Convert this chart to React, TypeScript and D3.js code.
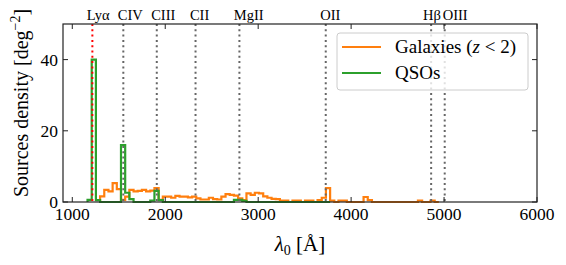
import React, { useRef, useEffect } from 'react';
import * as d3 from 'd3';

// emission lines (rest-frame wavelength, Å)
const lineNames = ['Lyα', 'CIV', 'CIII', 'CII', 'MgII', 'OII', 'Hβ', 'OIII'];
const lineWaves = [1216, 1549, 1909, 2326, 2798, 3727, 4861, 5007];
const lineColors = ['red', '#666', '#666', '#666', '#666', '#666', '#666', '#666'];
const labelShift = [-60, -60, -60, -60, -60, -60, -88, -22];

// histograms: 45 Å bins
const binWidth = 45;
const galaxyStart = 1299;
const galaxyDensity = [
  1.6, 3.4, 3.0, 5.3, 3.6, 0.6, 1.5, 3.4, 3.0, 3.1,
  3.4, 3.0, 3.2, 3.9, 0.6, 1.5, 1.5, 1.2, 1.7, 1.5,
  1.5, 1.3, 1.5, 1.0, 0.7, 0.7, 1.2, 0.8, 0.7, 1.5,
  2.2, 2.0, 1.8, 1.0, 0.5, 2.4, 2.0, 2.6, 2.4, 1.6,
  1.2, 0.9, 0.8, 0.4, 0.4, 0, 0.4, 0.4, 0, 0.4,
  0.4, 0, 0.5, 1.2, 3.9, 0.4, 0, 0.4, 0.4, 0,
  0, 0, 0, 1.4, 0.5, 0, 0, 0, 0, 0,
  0, 0, 0, 0, 0, 0, 0.4, 0, 0, 0.4, 0,
];
const qsoStart = 1164;
const qsoDensity = [
  0.6, 40, 0.5, 0, 0, 0, 0, 0, 16, 2.6,
  0.8, 0, 0, 0, 0, 0.4, 3.1, 0.5, 0, 0,
  0, 0, 0, 0, 0, 0, 0, 0, 0, 0,
  0, 0, 0, 0, 0, 0.6, 0.6, 0.3, 0, 0,
  0, 0, 0, 0, 0, 0, 0, 0, 0, 0,
  0, 0, 0, 0, 0, 0, 0, 0,
];

const xTicks = [1000, 2000, 3000, 4000, 5000, 6000];
const yTicks = [0, 20, 40];

const FONT = '"Liberation Serif", "DejaVu Serif", serif';

export default function App() {
  const svgRef = useRef<SVGSVGElement>(null);

  useEffect(() => {
    const svg = d3.select(svgRef.current);
    const width = 566;
    const height = 265;
    const margin = { top: 24, right: 29, bottom: 63, left: 63 };
    svg.selectAll('*').remove();

    const x = d3.scaleLinear().domain([900, 6000]).range([margin.left, width - margin.right]);
    const y = d3.scaleLinear().domain([0, 50]).range([height - margin.bottom, margin.top]);
    const [x0, x1] = x.range();
    const [y0, y1] = y.range();

    const stepPoints = (start: number, vals: number[]) => {
      const pts: [number, number][] = [[start, 0]];
      vals.forEach((v, i) => {
        pts.push([start + i * binWidth, v]);
        pts.push([start + (i + 1) * binWidth, v]);
      });
      pts.push([start + vals.length * binWidth, 0]);
      return pts;
    };
    const line = d3.line<[number, number]>().x(d => x(d[0])).y(d => y(d[1]));

    svg.append('path')
      .attr('d', line(stepPoints(galaxyStart, galaxyDensity)))
      .attr('fill', 'none').attr('stroke', '#ff7f0e').attr('stroke-width', 2.2)
      .attr('stroke-linejoin', 'miter');
    svg.append('path')
      .attr('d', line(stepPoints(qsoStart, qsoDensity)))
      .attr('fill', 'none').attr('stroke', '#2ca02c').attr('stroke-width', 2.2)
      .attr('stroke-linejoin', 'miter');

    // emission lines
    lineWaves.forEach((w, i) => {
      svg.append('line')
        .attr('x1', x(w)).attr('x2', x(w)).attr('y1', y1).attr('y2', y0)
        .attr('stroke', lineColors[i]).attr('stroke-width', 2)
        .attr('stroke-dasharray', '2,3.3');
      svg.append('text')
        .attr('x', x(w + labelShift[i])).attr('y', y1 - 4)
        .attr('font-family', FONT).attr('font-size', 14.5)
        .text(lineNames[i]);
    });

    // frame + ticks (inward, all sides)
    svg.append('rect')
      .attr('x', x0).attr('y', y1).attr('width', x1 - x0).attr('height', y0 - y1)
      .attr('fill', 'none').attr('stroke', '#222').attr('stroke-width', 1.2);
    const tl = 5;
    xTicks.forEach(t => {
      svg.append('line').attr('x1', x(t)).attr('x2', x(t)).attr('y1', y0).attr('y2', y0 - tl)
        .attr('stroke', '#222');
      svg.append('line').attr('x1', x(t)).attr('x2', x(t)).attr('y1', y1).attr('y2', y1 + tl)
        .attr('stroke', '#222');
      svg.append('text').attr('x', x(t)).attr('y', y0 + 18).attr('text-anchor', 'middle')
        .attr('font-family', FONT).attr('font-size', 17.5).text(t);
    });
    yTicks.forEach(t => {
      svg.append('line').attr('x1', x0).attr('x2', x0 + tl).attr('y1', y(t)).attr('y2', y(t))
        .attr('stroke', '#222');
      svg.append('line').attr('x1', x1).attr('x2', x1 - tl).attr('y1', y(t)).attr('y2', y(t))
        .attr('stroke', '#222');
      svg.append('text').attr('x', x0 - 5).attr('y', y(t) + 6).attr('text-anchor', 'end')
        .attr('font-family', FONT).attr('font-size', 17.5).text(t);
    });

    // axis labels
    const xl = svg.append('text').attr('x', 300).attr('y', 251).attr('text-anchor', 'middle')
      .attr('font-family', FONT).attr('font-size', 21);
    xl.append('tspan').attr('font-style', 'italic').text('λ');
    xl.append('tspan').attr('font-size', 14).attr('dy', 4).text('0');
    xl.append('tspan').attr('dy', -4).text(' [Å]');

    const yl = svg.append('text')
      .attr('transform', 'translate(28,103) rotate(-90)')
      .attr('text-anchor', 'middle')
      .attr('font-family', FONT).attr('font-size', 20);
    yl.append('tspan').text('Sources density [deg');
    yl.append('tspan').attr('font-size', 14).attr('dy', -8).text('−2');
    yl.append('tspan').attr('dy', 8).text(']');

    // legend
    const lg = svg.append('g');
    lg.append('rect').attr('x', 337).attr('y', 33).attr('width', 191).attr('height', 57)
      .attr('rx', 3).attr('fill', 'white').attr('fill-opacity', 0.8)
      .attr('stroke', '#ccc').attr('stroke-width', 1);
    const items = [
      { color: '#ff7f0e', yy: 47 },
      { color: '#2ca02c', yy: 73 },
    ];
    items.forEach(it => {
      lg.append('line').attr('x1', 342).attr('x2', 381).attr('y1', it.yy).attr('y2', it.yy)
        .attr('stroke', it.color).attr('stroke-width', 2.2);
    });
    const g1 = lg.append('text').attr('x', 395).attr('y', 53)
      .attr('font-family', FONT).attr('font-size', 19);
    g1.append('tspan').text('Galaxies (');
    g1.append('tspan').attr('font-style', 'italic').text('z');
    g1.append('tspan').text(' < 2)');
    lg.append('text').attr('x', 395).attr('y', 79)
      .attr('font-family', FONT).attr('font-size', 19).text('QSOs');
  }, []);

  return (
    <svg
      ref={svgRef}
      width={566}
      height={265}
      style={{ position: 'absolute', left: 0, top: 0, background: 'white' }}
    />
  );
}
